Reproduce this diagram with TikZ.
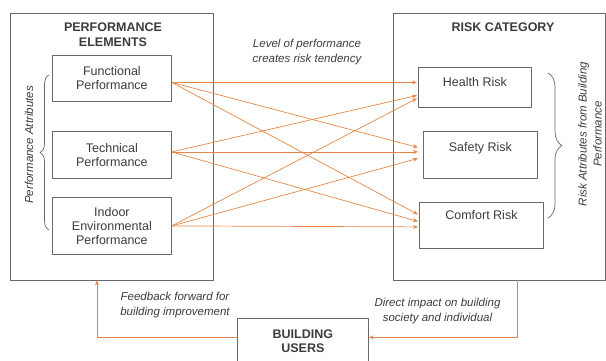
\documentclass[tikz,border=0pt]{standalone}
\usepackage{fontspec}
\setmainfont{Liberation Sans}
\usetikzlibrary{arrows.meta,decorations.pathreplacing}
\definecolor{linegray}{RGB}{105,105,105}
\definecolor{txtgray}{RGB}{60,60,60}
\definecolor{floworange}{RGB}{228,135,70}
\begin{document}
\begin{tikzpicture}[x=1pt, y=-1pt, line join=round,
	font=\fontsize{12.5}{14}\selectfont, text=txtgray,
	frame/.style={draw=linegray, line width=0.8pt, inner sep=0pt},
	item/.style={draw=linegray, line width=0.8pt, align=center, inner sep=0pt, anchor=north west},
	heading/.style={font=\bfseries\fontsize{12.5}{15}\selectfont, align=center},
	note/.style={font=\itshape\fontsize{11.5}{15}\selectfont, align=center},
	flow/.style={draw=floworange, line width=0.7pt, -{Stealth[length=5pt,width=4pt]}},
	curly/.style={draw=linegray, line width=0.7pt, decorate, decoration={brace, amplitude=#1}}]
	\useasboundingbox (0,0) rectangle (606,360);
	% Khung lớn
	\node[frame, minimum width=203pt, minimum height=267pt] (perfbox) at (111.5,146.5) {};
	\node[frame, minimum width=212pt, minimum height=267pt] (riskbox) at (499,146.5) {};
	\node[heading] (perftitle) at (113,34.5) {PERFORMANCE\\ELEMENTS};
	\node[heading] (risktitle) at (503,27) {RISK CATEGORY};
	% Các yếu tố hiệu năng
	\node[item, minimum width=119pt, minimum height=46pt] (func) at (52,55) {Functional\\Performance};
	\node[item, minimum width=119pt, minimum height=47pt] (tech) at (52,131) {Technical\\Performance};
	\node[item, minimum width=119pt, minimum height=57pt] (ieq) at (52,197) {Indoor\\Environmental\\Performance};
	% Các loại rủi ro
	\node[item, minimum width=113pt, text height=19.5pt, text depth=20.5pt] (health) at (418,67) {Health Risk};
	\node[item, minimum width=114pt, text height=20.5pt, text depth=26.5pt] (safety) at (423,131) {Safety Risk};
	\node[item, minimum width=124pt, text height=17.5pt, text depth=28.5pt] (comfort) at (419,202) {Comfort Risk};
	% Người dùng
	\node[item, minimum width=131pt, minimum height=46pt, font=\bfseries\fontsize{12.5}{14}\selectfont] (users) at (237,318) {BUILDING\\USERS};
	% Nhãn
	\node[note] (levellbl) at (307,52.5) {Level of performance\\creates risk tendency};
	\node[note] (feedlbl) at (175,305) {Feedback forward for\\building improvement};
	\node[note] (impactlbl) at (437.5,311.5) {Direct impact on building\\society and individual};
	\node[note, rotate=90] (perfattr) at (29,145) {Performance Attributes};
	\node[note, rotate=90] (riskattr) at (590,134) {Risk Attributes from Building\\Performance};
	% Ngoặc
	\draw[curly=9pt] (49,230) -- (49,75);
	\draw[curly=14pt] (548,73) -- (548,218);
	% Mũi tên
	\foreach \src/\sy/\dst/\dx/\dy in {func/-4/health/-1/5, func/-4/safety/-5/7.5, func/-4/comfort/-1/11,
		tech/3/health/-1/-8, tech/3/safety/-5/3, tech/3/comfort/-1/4,
		ieq/0/health/-1/-11, ieq/0/safety/-5/-3.5, ieq/0/comfort/-1/-1.5}
		\draw[flow] ([yshift=\sy pt]\src.east) -- ([xshift=\dx pt, yshift=\dy pt]\dst.west);
	\draw[flow] ([xshift=18pt]riskbox.south) |- ([yshift=4pt]users.east);
	\draw[flow] ([yshift=4pt]users.west) -| ([xshift=-14.5pt]perfbox.south);
\end{tikzpicture}
\end{document}
